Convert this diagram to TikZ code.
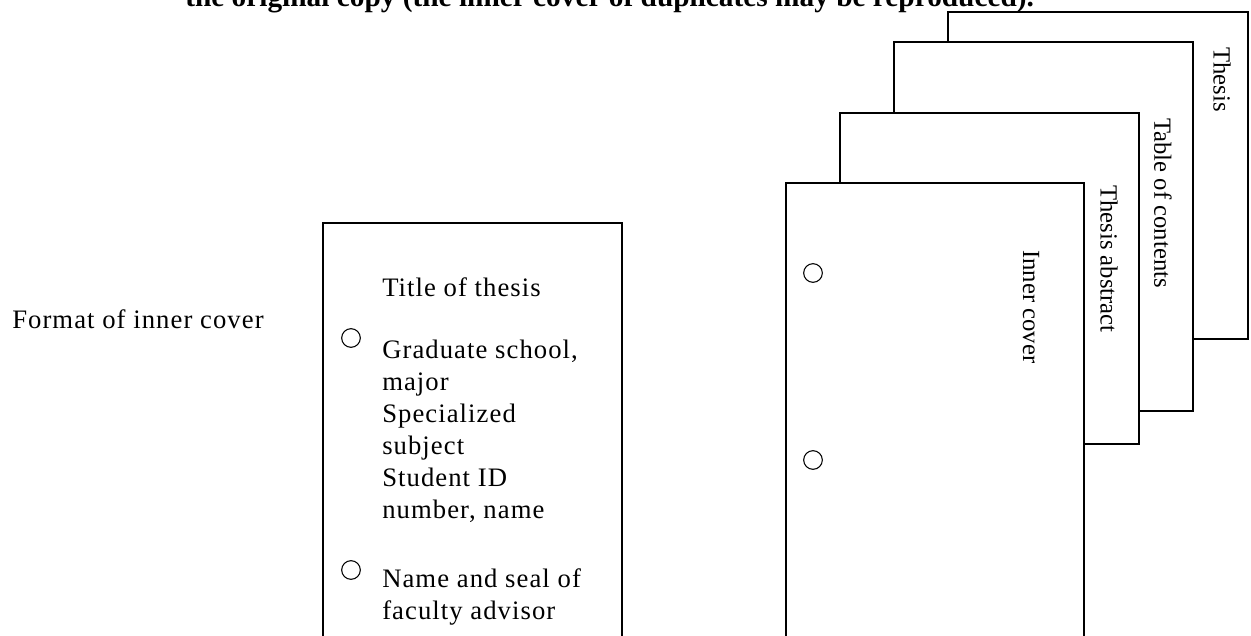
\documentclass[tikz,border=0pt]{standalone}
\usepackage{fontspec}
\setmainfont{Liberation Serif}
\newfontfamily\spacedfont{Liberation Serif}[LetterSpace=4]

\begin{document}
\begin{tikzpicture}[
  x=0.75pt, y=-0.75pt,
  sheet/.style={draw, line width=1.5pt, fill=white},
  hole/.style={draw, line width=0.8pt, circle, minimum size=14pt, inner sep=0pt},
  body/.style={font=\spacedfont\fontsize{20}{24}\selectfont, align=left, inner sep=0pt},
  label/.style={font=\fontsize{18.5}{22}\selectfont, rotate=-90, anchor=west, inner sep=0pt},
  heading/.style={font=\bfseries\fontsize{22}{26}\selectfont, inner sep=0pt, anchor=base west}
  ]

  \useasboundingbox (0,0) rectangle (1251,635);

  \node[heading] (note) at (185,7) {the original copy (the inner cover of duplicates may be reproduced).};

  \node[body, anchor=base west] (format) at (12,328) {Format of inner cover};

  \draw[sheet] (323,223) rectangle (622,700);
  \node[body, anchor=base west] (title) at (382,296) {Title of thesis};
  \node[hole] (hole1) at (351,338) {};
  \node[body, anchor=north west] (school) at (382,340)
    {Graduate school,\\major\\Specialized\\subject\\Student ID\\number, name};
  \node[hole] (hole2) at (351,570) {};
  \node[body, anchor=north west] (advisor) at (382,568)
    {Name and seal of\\faculty advisor};

  \draw[sheet] (948,12) rectangle (1248,339);
  \node[label] (thesis) at (1222,47) {Thesis};
  \draw[sheet] (894,42) rectangle (1193,411);
  \node[label] (contents) at (1163,118) {Table of contents};
  \draw[sheet] (840,113) rectangle (1139,444);
  \node[label] (abstract) at (1109,185) {Thesis abstract};
  \draw[sheet] (786,183) rectangle (1084,700);
  \node[label] (cover) at (1031,250) {Inner cover};
  \node[hole] (hole3) at (813,273) {};
  \node[hole] (hole4) at (813,460) {};
\end{tikzpicture}
\end{document}
